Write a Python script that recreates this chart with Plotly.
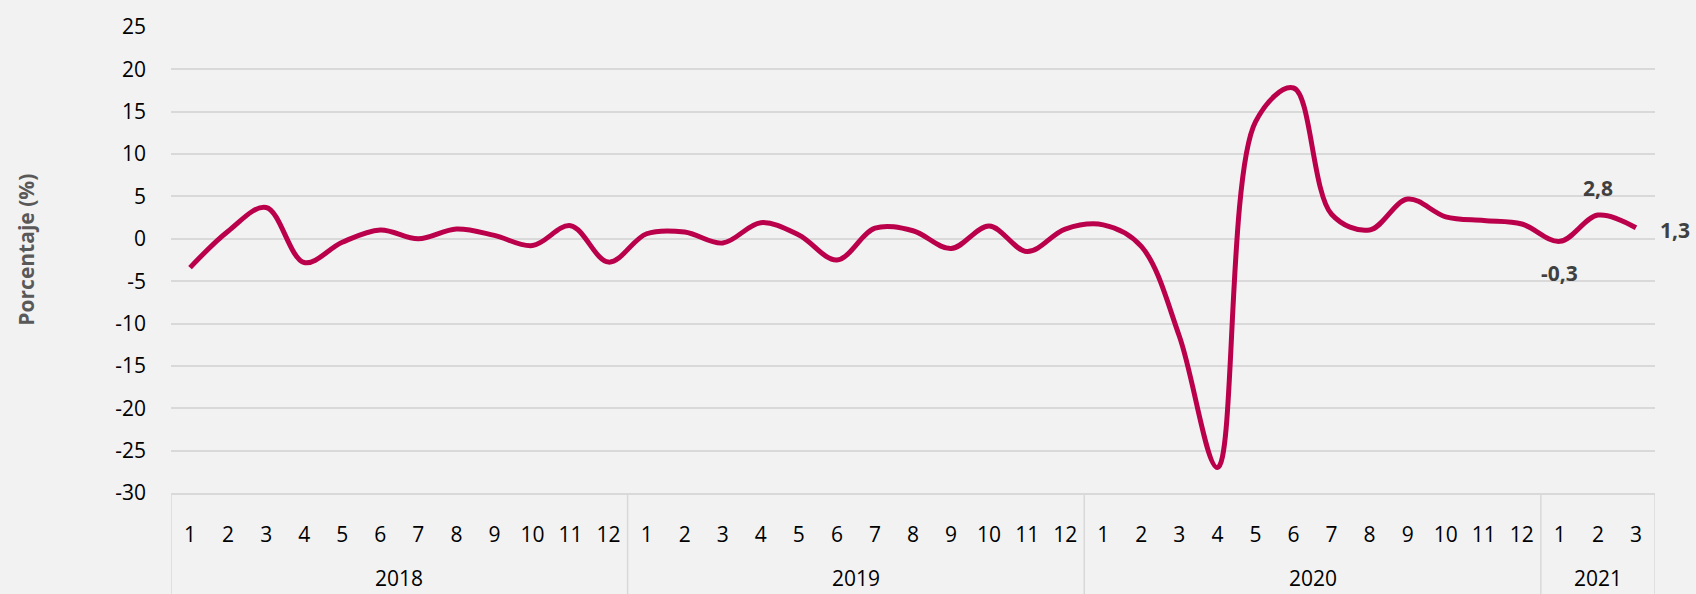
import plotly.graph_objects as go

years = ["2018", "2019", "2020", "2021"]
months_per_year = [12, 12, 12, 3]
months = [str(m) for m in range(1, 13)] * 3 + ["1", "2", "3"]

values = [
    -3.4, 0.9, 3.7, -2.8, -0.4, 1.05, 0.0, 1.15, 0.4, -0.8, 1.55, -2.75,
    0.6, 0.8, -0.5, 1.9, 0.45, -2.5, 1.25, 0.95, -1.15, 1.5, -1.5, 1.15,
    1.65, -0.9, -11.5, -27.0, 13.8, 17.8, 2.9, 1.05, 4.7, 2.6, 2.15, 1.75,
    -0.3, 2.8, 1.3,
]

ytick_vals = [25, 20, 15, 10, 5, 0, -5, -10, -15, -20, -25, -30]
ytick_text = ["25", "20", "15", "10", "5", "0", "-5", "-10", "-15", "-20", "-25", "-30"]

labels = {36: "-0,3", 37: "2,8", 38: "1,3"}
label_shift = {36: (0, -32), 37: (0, 27), 38: (39, -2)}

FONT = "Open Sans"
BG = "#F2F2F2"
GRID = "#D9D9D9"
TXT = "#000000"

n = len(values)
xs = list(range(n))

fig = go.Figure()
fig.add_trace(go.Scatter(
    x=xs,
    y=values,
    mode="lines",
    line=dict(color="#BA004B", width=5, shape="spline", smoothing=1),
    hoverinfo="skip",
    showlegend=False,
))

# plot geometry (pixels)
plot_top, plot_bottom = 21, 493
plot_h = plot_bottom - plot_top

annotations = []
# data labels
for i, txt in labels.items():
    dx, dy = label_shift[i]
    annotations.append(dict(
        x=xs[i], y=values[i], xref="x", yref="y",
        text="<b>" + txt + "</b>", showarrow=False,
        xanchor="center", yanchor="middle",
        xshift=dx, yshift=dy,
        font=dict(family=FONT, size=21, color="#404040"),
    ))

# year group labels and dividers
shapes = []
start = 0
bounds = [-0.5]
for yr, cnt in zip(years, months_per_year):
    center = start + (cnt - 1) / 2
    annotations.append(dict(
        x=center, y=-(579 - plot_bottom) / plot_h, xref="x", yref="paper",
        text=yr, showarrow=False, xanchor="center", yanchor="middle",
        font=dict(family=FONT, size=21, color=TXT),
    ))
    start += cnt
    bounds.append(start - 0.5)
for b in bounds:
    shapes.append(dict(
        type="line", xref="x", yref="paper",
        x0=b, x1=b, y0=0, y1=-(600 - plot_bottom) / plot_h,
        line=dict(color=GRID, width=1.5), layer="below",
    ))

# y-axis title
annotations.append(dict(
    text="<b>Porcentaje (%)</b>",
    xref="paper", yref="paper",
    x=-(171 - 26) / 1484, y=(plot_bottom - 246.5) / plot_h,
    xanchor="center", yanchor="middle",
    textangle=-90, showarrow=False,
    font=dict(family=FONT, size=21, color="#595959"),
))

fig.update_layout(
    width=1696,
    height=594,
    margin=dict(l=171, r=41, t=plot_top, b=594 - plot_bottom),
    paper_bgcolor=BG,
    plot_bgcolor=BG,
    font=dict(family=FONT, size=21, color=TXT),
    xaxis=dict(
        range=[-0.5, n - 0.5],
        tickmode="array",
        tickvals=xs,
        ticktext=months,
        showgrid=False,
        zeroline=False,
        showline=True,
        linecolor=GRID,
        linewidth=1.5,
        ticks="",
        ticklabelstandoff=22,
        tickfont=dict(family=FONT, size=21, color=TXT),
        fixedrange=True,
    ),
    yaxis=dict(
        range=[-30, 25],
        tickmode="array",
        tickvals=ytick_vals,
        ticktext=ytick_text,
        showgrid=True,
        gridcolor=GRID,
        gridwidth=1.5,
        zeroline=False,
        showline=False,
        ticks="",
        ticklabelstandoff=24,
        tickfont=dict(family=FONT, size=21, color=TXT),
        fixedrange=True,
    ),
    annotations=annotations,
    shapes=shapes,
)

fig.write_html(
    "out.html",
    config={"displayModeBar": False},
    post_script="document.body.style.margin='0px';document.body.style.background='#F2F2F2';",
)
